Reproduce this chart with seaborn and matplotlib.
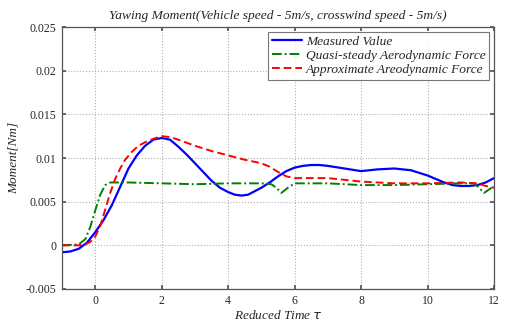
import matplotlib
matplotlib.use("Agg")
import matplotlib.pyplot as plt
import seaborn as sns
import pandas as pd

# ---- data ----
measured_x = [-1, -0.75, -0.5, -0.25, 0, 0.25, 0.5, 0.75, 1, 1.25, 1.5, 1.75, 2, 2.25, 2.5, 2.75, 3, 3.25, 3.5, 3.75, 4,
              4.2, 4.4, 4.6, 4.8, 5, 5.25, 5.5, 5.75, 6, 6.25, 6.5, 6.75, 7, 7.5, 8, 8.5, 9, 9.5, 10, 10.5, 10.75,
              11, 11.25, 11.5, 11.75, 12]
measured_y = [-0.0008, -0.0007, -0.0004, 0.0003, 0.0015, 0.0029, 0.0046, 0.0067, 0.0088, 0.0103, 0.0114, 0.0121,
              0.0123, 0.0121, 0.0113, 0.0104, 0.0094, 0.0084, 0.0074, 0.0066, 0.0061, 0.0058, 0.0057, 0.0058,
              0.0062, 0.0066, 0.0072, 0.0079, 0.0085, 0.0089, 0.0091, 0.0092, 0.0092, 0.0091, 0.0088, 0.0085,
              0.0087, 0.0088, 0.0086, 0.0080, 0.0072, 0.0069, 0.0068, 0.0068, 0.0069, 0.0072, 0.0077]

quasi_x = [-1, -0.5, -0.3, -0.15, 0, 0.15, 0.3, 0.45, 1, 2, 3, 4, 5, 5.3, 5.45, 5.6, 5.8, 6, 7, 8, 9, 10, 11,
           11.4, 11.55, 11.7, 11.85, 12]
quasi_y = [0, 0.0001, 0.0007, 0.0021, 0.0040, 0.0058, 0.0069, 0.0072, 0.0072, 0.0071, 0.0070, 0.0071, 0.0071,
           0.0070, 0.0066, 0.0060, 0.0066, 0.0071, 0.0071, 0.0069, 0.0069, 0.0070, 0.0071, 0.0071, 0.0066,
           0.0060, 0.0064, 0.0068]

approx_x = [-1, -0.5, -0.3, -0.15, 0, 0.15, 0.3, 0.45, 0.6, 0.75, 0.9, 1.1, 1.3, 1.5, 1.75, 2, 2.25, 2.5, 3, 3.5,
            4, 4.5, 5, 5.25, 5.5, 5.75, 6, 7, 7.5, 8, 9, 10, 11, 11.5, 11.75, 12]
approx_y = [0, 0, 0.0001, 0.0004, 0.0010, 0.0022, 0.0041, 0.0060, 0.0076, 0.0088, 0.0098, 0.0107, 0.0114, 0.0118,
            0.0122, 0.0125, 0.0124, 0.0121, 0.0114, 0.0108, 0.0103, 0.0098, 0.0094, 0.0090, 0.0084, 0.0079,
            0.0077, 0.0077, 0.0075, 0.0073, 0.0071, 0.0071, 0.0072, 0.0071, 0.0068, 0.0066]

series_names = ["Measured Value", "Quasi-steady Aerodynamic Force", "Approximate Areodynamic Force"]
x_ticks = [0, 2, 4, 6, 8, 10, 12]
y_ticks = [-0.005, 0, 0.005, 0.01, 0.015, 0.02, 0.025]
y_tick_labels = ["-0.005", "0", "0.005", "0.01", "0.015", "0.02", "0.025"]

sns.set_theme(style="white")
plt.rcParams["font.family"] = ["Liberation Serif", "DejaVu Serif"]

fig = plt.figure(figsize=(5.05, 3.22), dpi=100)
ax = fig.add_axes([0.1228, 0.1025, 0.8554, 0.8135])

df_m = pd.DataFrame({"x": measured_x, "y": measured_y})
df_q = pd.DataFrame({"x": quasi_x, "y": quasi_y})
df_a = pd.DataFrame({"x": approx_x, "y": approx_y})

sns.lineplot(data=df_m, x="x", y="y", ax=ax, color="#0000ff", lw=1.6, label=series_names[0])
sns.lineplot(data=df_q, x="x", y="y", ax=ax, color="#008000", lw=1.4, ls=(0, (5, 1.5, 1, 1.5)), label=series_names[1])
sns.lineplot(data=df_a, x="x", y="y", ax=ax, color="#ff0000", lw=1.4, ls=(0, (4, 2)), label=series_names[2])

ax.set_xlim(-1, 12)
ax.set_ylim(-0.005, 0.025)
ax.set_xticks(x_ticks)
ax.set_xticklabels([str(t) for t in x_ticks])
ax.set_yticks(y_ticks)
ax.set_yticklabels(y_tick_labels)
ax.grid(True, ls=":", color="#b0b0b0", lw=0.8)
ax.tick_params(axis="both", labelsize=8.5, direction="in", length=3, color="#555555", pad=4,
               top=True, right=True, bottom=True, left=True)
for s in ax.spines.values():
    s.set_color("#555555")
    s.set_linewidth(0.9)

ax.set_title("Yawing Moment(Vehicle speed - 5m/s, crosswind speed - 5m/s)", fontsize=9.7, style="italic", pad=6)
ax.set_xlabel("Reduced Time $\\tau$", fontsize=9.5, style="italic", labelpad=2)
ax.set_ylabel("Moment[Nm]", fontsize=9.5, style="italic", labelpad=4)

leg = ax.legend(loc="upper right", prop={"style": "italic", "size": 9.6}, frameon=True,
                fancybox=False, edgecolor="#555555", handlelength=2.2, handletextpad=0.3,
                borderpad=0.3, labelspacing=0.12, borderaxespad=0.35)
leg.get_frame().set_linewidth(0.8)

fig.savefig("out.png", dpi=100)
